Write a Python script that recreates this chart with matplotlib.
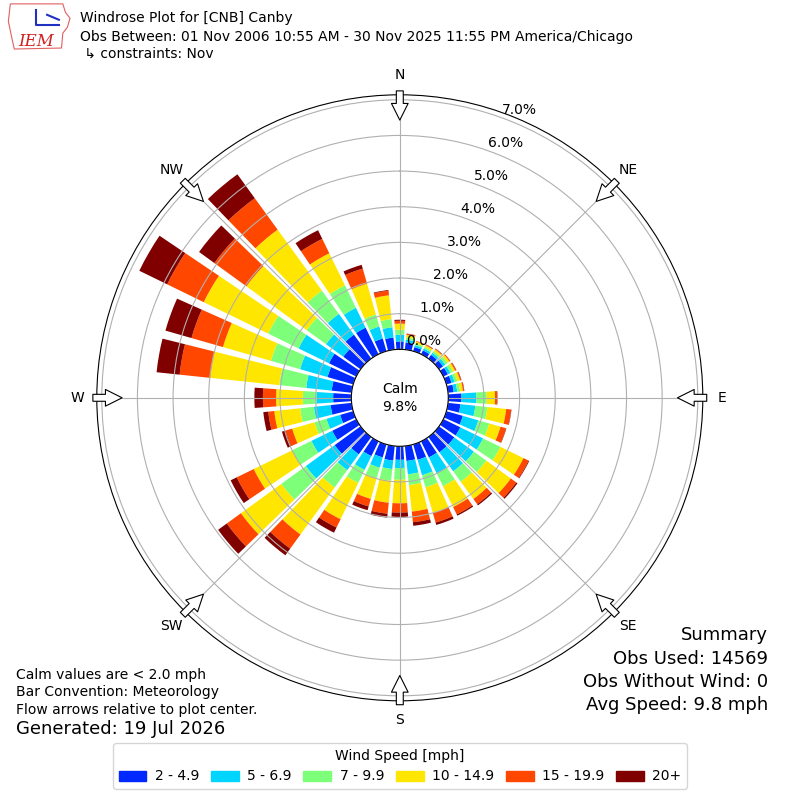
import matplotlib
matplotlib.use("Agg")
import matplotlib.pyplot as plt
import numpy as np
from matplotlib.patches import Patch, Polygon

# wind directions (deg, direction wind blows from), 10 degree sectors
directions = np.arange(0, 360, 10)
speed_labels = ["2 - 4.9", "5 - 6.9", "7 - 9.9", "10 - 14.9", "15 - 19.9", "20+"]
dir_labels = ["N", "NE", "E", "SE", "S", "SW", "W", "NW"]
r_ticks = [0, 1, 2, 3, 4, 5, 6, 7]
calm_pct = 9.8

# frequency (%) of each speed bin per direction
freq_2_5 = [0.22, 0.20, 0.12, 0.12, 0.13, 0.14, 0.14, 0.15, 0.16, 0.37, 0.35, 0.48,
            0.53, 0.53, 0.53, 0.50, 0.45, 0.42, 0.38, 0.41, 0.38, 0.46, 0.60, 0.90,
            0.75, 0.38, 0.59, 0.51, 0.56, 0.75, 0.85, 0.60, 0.83, 0.83, 0.37, 0.34]
freq_5_7 = [0.19, 0.08, 0.06, 0.06, 0.07, 0.08, 0.08, 0.09, 0.10, 0.42, 0.42, 0.45,
            0.71, 0.68, 0.66, 0.50, 0.45, 0.38, 0.23, 0.24, 0.30, 0.43, 0.55, 1.00,
            0.65, 0.40, 0.47, 0.47, 0.72, 0.80, 0.95, 0.60, 0.72, 0.62, 0.35, 0.29]
freq_7_10 = [0.14, 0.06, 0.05, 0.05, 0.06, 0.08, 0.08, 0.08, 0.08, 0.29, 0.34, 0.32,
             0.54, 0.43, 0.36, 0.40, 0.35, 0.30, 0.33, 0.33, 0.31, 0.41, 0.60, 0.85,
             0.60, 0.35, 0.39, 0.38, 0.76, 0.85, 0.95, 0.67, 0.81, 0.70, 0.35, 0.23]
freq_10_15 = [0.17, 0.07, 0.05, 0.05, 0.06, 0.07, 0.07, 0.08, 0.08, 0.23, 0.53, 0.33,
              0.72, 0.85, 0.60, 0.65, 0.75, 0.75, 0.66, 0.62, 0.60, 1.13, 1.63, 1.40,
              1.20, 0.65, 0.73, 0.75, 1.95, 1.40, 2.01, 2.09, 2.11, 1.00, 0.90, 0.67]
freq_15_20 = [0.08, 0.03, 0.02, 0.02, 0.02, 0.03, 0.03, 0.03, 0.03, 0.06, 0.14, 0.16,
              0.16, 0.19, 0.18, 0.23, 0.28, 0.30, 0.26, 0.31, 0.22, 0.26, 0.49, 0.49,
              0.53, 0.20, 0.17, 0.37, 0.86, 0.92, 1.14, 1.11, 1.09, 0.45, 0.44, 0.13]
freq_20_up = [0.03, 0.01, 0.00, 0.01, 0.01, 0.00, 0.01, 0.01, 0.01, 0.01, 0.01, 0.01,
              0.02, 0.04, 0.04, 0.04, 0.07, 0.10, 0.12, 0.11, 0.11, 0.16, 0.23, 0.30,
              0.19, 0.10, 0.14, 0.24, 0.65, 0.76, 0.87, 0.53, 0.83, 0.27, 0.11, 0.02]

all_bins = [freq_2_5, freq_5_7, freq_7_10, freq_10_15, freq_15_20, freq_20_up]
colors = plt.get_cmap("jet")(np.linspace(0, 1, 7)[1:])

fig = plt.figure(figsize=(8, 8), dpi=100)
ax = fig.add_axes([0.121, 0.124, 0.7575, 0.7575], projection="polar")
ax.set_theta_zero_location("N")
ax.set_theta_direction(-1)

theta = np.radians(directions)
width = np.radians(10) * 0.8
bottom = np.zeros(len(directions))
for vals, c in zip(all_bins, colors):
    vals = np.array(vals)
    ax.bar(theta, vals, width=width, bottom=bottom, color=c, linewidth=0)
    bottom = bottom + vals

ax.set_rlim(0, 7.14)
ax.set_rorigin(-1.36)
ax.set_yticks(r_ticks)
ax.set_yticklabels([])
# ring labels sit just outside each ring along 22.5 deg
for v in r_ticks:
    ax.text(np.radians(22.5), v + 0.37, "%.1f%%" % v, ha="center", va="center", fontsize=10)
ax.set_xticks(np.radians(np.arange(0, 360, 45)))
ax.set_xticklabels(dir_labels, fontsize=10)
ax.tick_params(axis="x", pad=3.5)

ax.text(0.5, 0.5, "Calm\n%.1f%%" % calm_pct, transform=ax.transAxes,
        ha="center", va="center", fontsize=10, linespacing=1.35)

# flow arrows at the edge, pointing to the center
for ang in range(0, 360, 45):
    t = np.radians(ang)
    ax.annotate("", xy=(t, 6.43), xytext=(t, 7.25),
                arrowprops=dict(arrowstyle="simple,head_length=1.2,head_width=1.2,tail_width=0.5",
                                fc="white", ec="k", lw=0.8, shrinkA=0, shrinkB=0),
                annotation_clip=False)

# header
fig.text(0.1, 1 - 18 / 800, "Windrose Plot for [CNB] Canby", fontsize=10, va="center")
fig.text(0.1, 1 - 37 / 800,
         "Obs Between: 01 Nov 2006 10:55 AM - 30 Nov 2025 11:55 PM America/Chicago",
         fontsize=10, va="center")
fig.text(0.1, 1 - 54 / 800, " \u21b3 constraints: Nov", fontsize=10, va="center")

# rough IEM logo
lax = fig.add_axes([0.008, 0.935, 0.082, 0.062])
lax.set_xlim(0, 1)
lax.set_ylim(0, 1)
lax.axis("off")
lax.add_patch(Polygon([(0.06, 0.97), (0.86, 0.97), (0.9, 0.8), (0.97, 0.68), (0.93, 0.5),
                       (0.86, 0.38), (0.84, 0.08), (0.12, 0.06), (0.08, 0.3), (0.03, 0.62)],
                      closed=True, fill=False, ec="#e06060", lw=0.8))
lax.plot([0.45, 0.45, 0.8], [0.85, 0.55, 0.55], color="#2030c0", lw=1.5)
lax.plot([0.62, 0.8], [0.75, 0.65], color="#2030c0", lw=1.5)
lax.text(0.45, 0.22, "IEM", color="#d02020", fontsize=12, family="DejaVu Serif",
         style="italic", ha="center", va="center")

# bottom left notes
fig.text(0.02, 1 - 675 / 800, "Calm values are < 2.0 mph", fontsize=10, va="center")
fig.text(0.02, 1 - 692 / 800, "Bar Convention: Meteorology", fontsize=10, va="center")
fig.text(0.02, 1 - 710 / 800, "Flow arrows relative to plot center.", fontsize=10, va="center")
fig.text(0.02, 1 - 729 / 800, "Generated: 19 Jul 2026", fontsize=13, va="center")

# summary
summary = ["Summary", "Obs Used: 14569", "Obs Without Wind: 0", "Avg Speed: 9.8 mph"]
for i, line in enumerate(summary):
    fig.text(0.96, 1 - (635 + 23.5 * i) / 800, line, fontsize=13, ha="right", va="center")

handles = [Patch(color=c) for c in colors]
fig.legend(handles, speed_labels, loc="lower center", bbox_to_anchor=(0.5, 0.005),
           ncol=6, title="Wind Speed [mph]", fontsize=10, title_fontsize=10,
           handletextpad=0.6, columnspacing=0.85)

fig.savefig("out.png", dpi=100)
